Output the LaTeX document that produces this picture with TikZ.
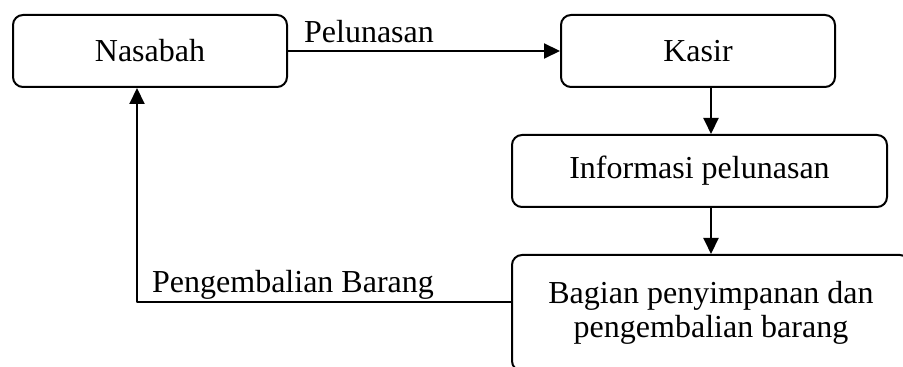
\documentclass[tikz,border=0pt]{standalone}
\usepackage{fontspec}
\setmainfont{Liberation Serif}
\usetikzlibrary{arrows.meta}

\tikzset{
  box/.style={draw, line width=1pt, rounded corners=5pt, align=center,
    inner sep=0pt, font=\fontsize{16}{17}\selectfont},
  arr/.style={line width=1pt, -{Triangle[length=8pt,width=7.5pt]}},
  lbl/.style={font=\fontsize{16}{17}\selectfont, inner sep=0pt}
}

\begin{document}
\begin{tikzpicture}[x=0.5pt, y=-0.5pt, line join = round]
                \useasboundingbox (0,0) rectangle (903,367);
                % boxes
                \node[box, minimum width=137pt, minimum height=36pt] (nasabah) at (150,51) {Nasabah};
                \node[box, minimum width=137pt, minimum height=36pt] (kasir) at (698,51) {Kasir};
                \node[box, minimum width=187.5pt, minimum height=36pt] (info) at (699.5,171) {Informasi pelunasan};
                \node[box, minimum width=199pt, minimum height=58pt] (bagian) at (711,313) {Bagian penyimpanan dan\\pengembalian barang};
                % return line corner
                \coordinate (ret) at (137,302);
                % labels
                \node[lbl] (lblpel) at (369,32) {Pelunasan};
                \node[lbl] (lblret) at (293,285) {Pengembalian Barang};

                % arrows
                \draw[arr] (nasabah) -- (kasir);
                \draw[arr] (kasir.south -| bagian.center) -- (info.north -| bagian.center);
                \draw[arr] (info.south -| bagian.center) -- (bagian.north);
                \draw[arr] (bagian.west |- ret) -- (ret) -- (nasabah.south -| ret);
              \end{tikzpicture}
\end{document}
